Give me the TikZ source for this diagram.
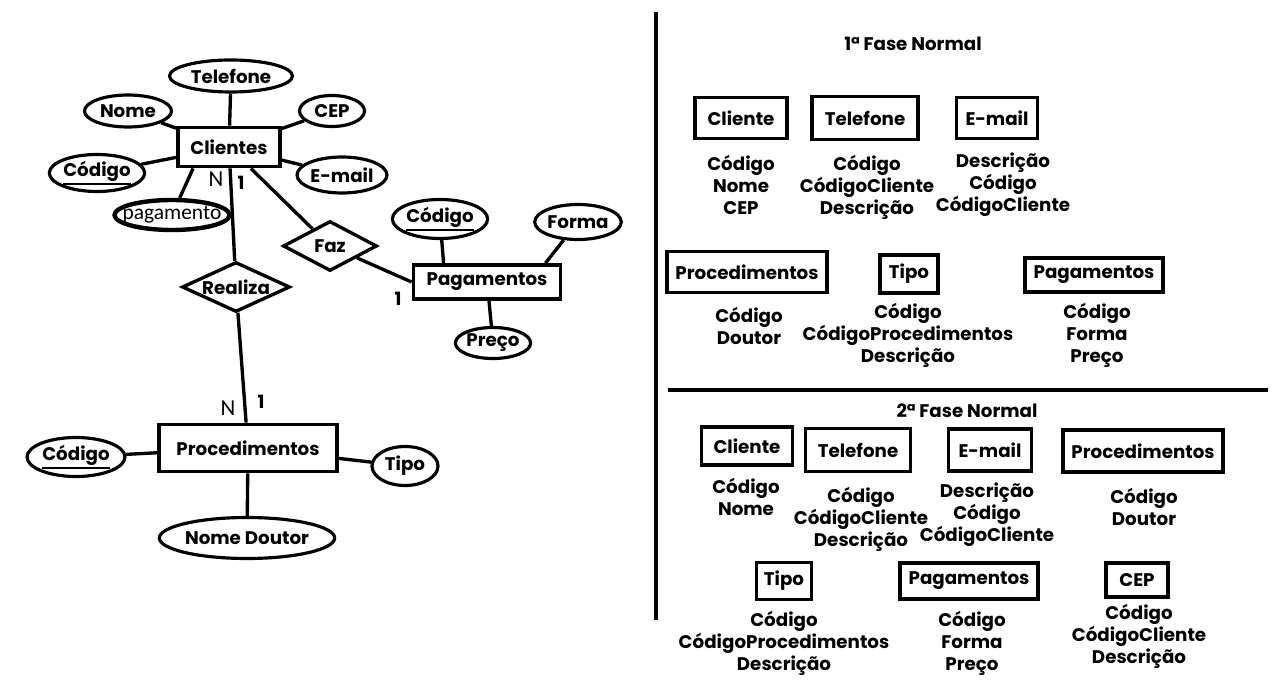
\documentclass[tikz,border=0pt]{standalone}
\usepackage{fontspec}
\setmainfont{Poppins}
\newfontfamily\calibfont{Carlito}
\usetikzlibrary{shapes.geometric,calc}
\newcommand\erfont{\bfseries\fontsize{10.4}{12.6}\selectfont}
\newcommand\ulword[1]{\leavevmode\vtop{\hbox{#1}\kern0.6pt\hrule height 1.1pt}}
\begin{document}
\begin{tikzpicture}[x=0.02cm,y=-0.02cm,
  ent/.style={draw, rectangle, line width=2.2pt, inner sep=0pt, font=\erfont},
  attr/.style={draw, ellipse, line width=1.8pt, inner sep=0pt, font=\erfont},
  rel/.style={draw, diamond, aspect=2.2, line width=1.9pt, inner sep=0pt, font=\erfont},
  tbl/.style={draw, rectangle, line width=2.2pt, inner sep=0pt, font=\erfont},
  fields/.style={align=center, inner sep=0pt, font=\erfont},
  card/.style={inner sep=0pt, font=\erfont},
  cardn/.style={inner sep=0pt, font=\calibfont\fontsize{13}{14}\selectfont},
  conn/.style={line width=1.9pt},
  divider/.style={line width=2.2pt}]
\useasboundingbox (0,0) rectangle (1280,692);
\fill[white] (0,0) rectangle (1280,692);

% ---------------- left ER diagram ----------------
\node[ent, minimum width=2.04cm, minimum height=0.78cm] (cli) at (229,147) {Clientes};
\node[attr, minimum width=2.46cm, minimum height=0.64cm] (tel) at (231,76) {Telefone};
\node[attr, minimum width=1.74cm, minimum height=0.64cm] (nome) at (128,111) {Nome};
\node[attr, minimum width=1.30cm, minimum height=0.62cm] (cep) at (332,111) {CEP};
\node[attr, minimum width=1.78cm, minimum height=0.74cm] (cod) at (97,173) {\ulword{Código}};
\node[attr, minimum width=1.80cm, minimum height=0.72cm] (email) at (342,175) {E-mail};
\node[draw, ellipse, line width=2.5pt, inner sep=0pt, minimum width=2.30cm, minimum height=0.60cm] (pag) at (172,215) {};
\node[inner sep=0pt, font=\calibfont\fontsize{12.2}{14}\selectfont] (pagt) at (pag.center) {pagamento};

\node[rel, minimum width=2.16cm, minimum height=1.0cm] (rea) at (236,287) {Realiza};
\node[rel, minimum width=1.88cm, minimum height=1.0cm] (faz) at (330,246) {Faz};

\node[ent, minimum width=2.94cm, minimum height=0.68cm] (pgto) at (487,282) {Pagamentos};
\node[attr, minimum width=1.80cm, minimum height=0.78cm] (pcod) at (440,219) {\ulword{Código}};
\node[attr, minimum width=1.46cm, minimum height=0.70cm] (forma) at (578,222) {Forma};
\node[attr, minimum width=1.46cm, minimum height=0.62cm] (preco) at (493,343) {Preço};

\node[ent, minimum width=3.56cm, minimum height=0.94cm] (proc) at (248,448) {Procedimentos};
\node[attr, minimum width=1.96cm, minimum height=0.78cm] (prcod) at (76,457) {\ulword{Código}};
\node[attr, minimum width=1.32cm, minimum height=0.78cm] (tipo) at (405,466) {Tipo};
\node[attr, minimum width=3.14cm, minimum height=0.82cm] (nomed) at (247,538) {Nome Doutor};

\node[cardn] (n1) at (216,179) {N};
\node[card] (c1) at (241,183) {1};
\node[card] (c2) at (398,299) {1};
\node[cardn] (n2) at (228,408) {N};
\node[card] (c3) at (261,402) {1};

\draw[conn] (tel) -- (cli);
\draw[conn] (nome) -- (cli);
\draw[conn] (cep) -- (cli);
\draw[conn] (cod) -- (cli);
\draw[conn] (email) -- (cli);
\draw[conn] (pag) -- ($(cli.south west)+(17,0)$);
\draw[conn] (cli) -- (rea);
\draw[conn] (cli) -- (faz);
\draw[conn] (faz) -- (pgto.west);
\draw[conn] (pcod) -- ($(pgto.north west)+(32,0)$);
\draw[conn] (forma) -- ($(pgto.north east)+(-17,0)$);
\draw[conn] (preco) -- ($(pgto.south)+(2,0)$);
\draw[conn] (rea) -- (proc);
\draw[conn] (prcod) -- (proc);
\draw[conn] (tipo) -- (proc);
\draw[conn] (nomed) -- (proc);

% ---------------- dividers ----------------
\coordinate (vtop) at (656,12);
\coordinate (vbot) at (656,620);
\coordinate (hl) at (668,390);
\coordinate (hr) at (1268,390);
\draw[divider] (vtop) -- (vbot);
\draw[divider] (hl) -- (hr);

% ---------------- 1a Fase Normal ----------------
\node[card] (t1) at (913,44) {1ª Fase Normal};
\node[tbl, minimum width=1.84cm, minimum height=0.82cm] (a1) at (741,118) {Cliente};
\node[tbl, minimum width=2.12cm, minimum height=0.86cm] (a2) at (865,118) {Telefone};
\node[tbl, minimum width=1.62cm, minimum height=0.82cm] (a3) at (997,118) {E-mail};
\node[fields] (fa1) at (741,185) {Código\\Nome\\CEP};
\node[fields] (fa2) at (867,187) {Código\\CódigoCliente\\Descrição};
\node[fields] (fa3) at (1003,185) {Descrição\\Código\\CódigoCliente};

\node[tbl, minimum width=3.20cm, minimum height=0.82cm] (a4) at (747,272) {Procedimentos};
\node[tbl, minimum width=1.16cm, minimum height=0.76cm] (a5) at (909,274) {Tipo};
\node[tbl, minimum width=2.76cm, minimum height=0.68cm] (a6) at (1094,275) {Pagamentos};
\node[fields] (fa4) at (749,326) {Código\\Doutor};
\node[fields] (fa5) at (908,335) {Código\\CódigoProcedimentos\\Descrição};
\node[fields] (fa6) at (1097,335) {Código\\Forma\\Preço};

% ---------------- 2a Fase Normal ----------------
\node[card] (t2) at (967,411) {2ª Fase Normal};
\node[tbl, minimum width=1.82cm, minimum height=0.76cm] (b1) at (747,446) {Cliente};
\node[tbl, minimum width=2.10cm, minimum height=0.86cm] (b2) at (858,450) {Telefone};
\node[tbl, minimum width=1.66cm, minimum height=0.84cm] (b3) at (990,450) {E-mail};
\node[tbl, minimum width=3.20cm, minimum height=0.84cm] (b4) at (1143,451) {Procedimentos};
\node[fields] (fb1) at (746,497) {Código\\Nome};
\node[fields] (fb2) at (861,519) {Código\\CódigoCliente\\Descrição};
\node[fields] (fb3) at (987,515) {Descrição\\Código\\CódigoCliente};
\node[fields] (fb4) at (1144,507) {Código\\Doutor};

\node[tbl, minimum width=1.10cm, minimum height=0.74cm] (b5) at (784,581) {Tipo};
\node[tbl, minimum width=2.76cm, minimum height=0.72cm] (b6) at (969,581) {Pagamentos};
\node[tbl, minimum width=1.24cm, minimum height=0.68cm] (b7) at (1137,580) {CEP};
\node[fields] (fb5) at (784,643) {Código\\CódigoProcedimentos\\Descrição};
\node[fields] (fb6) at (972,643) {Código\\Forma\\Preço};
\node[fields] (fb7) at (1139,636) {Código\\CódigoCliente\\Descrição};
\end{tikzpicture}
\end{document}
